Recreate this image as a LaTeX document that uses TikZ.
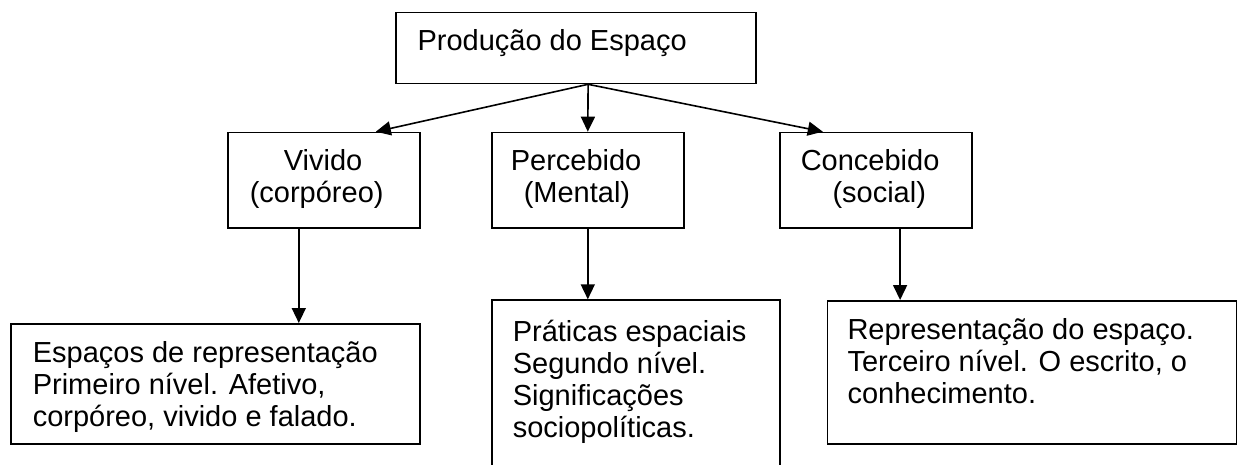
\documentclass[tikz,border=0pt]{standalone}
\usepackage{fontspec}
\setmainfont{Liberation Sans}
\usetikzlibrary{arrows.meta}
\tikzset{
  boxnode/.style={draw, line width=1.6pt, inner sep=0pt, anchor=north west},
  conn/.style={line width=1.6pt, -{Triangle[length=15pt,width=14pt]}},
}
% #1 width, #2 height, #3 first baseline below top, #4 text
\newcommand\boxtxt[4]{\parbox[t][#2][t]{#1}{\fontsize{29pt}{32pt}\selectfont\rule{0pt}{#3}#4}}
\begin{document}
\begin{tikzpicture}[x=1pt,y=-1pt]
\useasboundingbox (0,0) rectangle (1239,464);
\clip (0,0) rectangle (1239,464);
\fill[white] (0,0) rectangle (1239,464);

\node[boxnode] (top) at (395,11.7)
  {\boxtxt{360pt}{71pt}{37.6pt}{\hspace*{21.7pt}Produção do Espaço}};

\node[boxnode] (v1) at (227,131.7)
  {\boxtxt{192pt}{95.3pt}{38.3pt}{\hspace*{56pt}Vivido\\\hspace*{22pt}(corpóreo)}};
\node[boxnode] (v2) at (491,131.7)
  {\boxtxt{192pt}{95.3pt}{38.3pt}{\hspace*{19pt}Percebido\\\hspace*{32pt}(Mental)}};
\node[boxnode] (v3) at (779,131.7)
  {\boxtxt{192pt}{95.3pt}{38.3pt}{\hspace*{21pt}Concebido\\\hspace*{52.7pt}(social)}};

\node[boxnode] (b1) at (10,323)
  {\boxtxt{409pt}{120pt}{39pt}{\hspace*{22pt}Espaços de representação\\\hspace*{22pt}Primeiro nível. Afetivo,\\\hspace*{22pt}corpóreo, vivido e falado.}};
\node[boxnode] (b2) at (491,299.3)
  {\boxtxt{288pt}{172pt}{41pt}{\hspace*{21pt}Práticas espaciais\\\hspace*{21pt}Segundo nível.\\\hspace*{21pt}Significações\\\hspace*{21pt}sociopolíticas.}};
\node[boxnode] (b3) at (826.7,300)
  {\boxtxt{409pt}{143.3pt}{38.5pt}{\hspace*{20pt}Representação do espaço.\\\hspace*{20pt}Terceiro nível. O escrito, o\\\hspace*{20pt}conhecimento.}};

\coordinate (o) at ([xshift=12.3pt]top.south);
\coordinate (e1) at ([xshift=52pt]v1.north);
\coordinate (e3) at ([xshift=-53pt]v3.north);
\draw[conn] (o) -- (e1);
\draw[conn] (o) -- (v2.north);
\draw[conn] (o) -- (e3);

\coordinate (s1) at ([xshift=-25pt]v1.south);
\coordinate (s3) at ([xshift=24.3pt]v3.south);
\draw[conn] (s1) -- (s1 |- b1.north);
\draw[conn] (v2.south) -- (v2.south |- b2.north);
\draw[conn] (s3) -- (s3 |- b3.north);
\end{tikzpicture}
\end{document}
